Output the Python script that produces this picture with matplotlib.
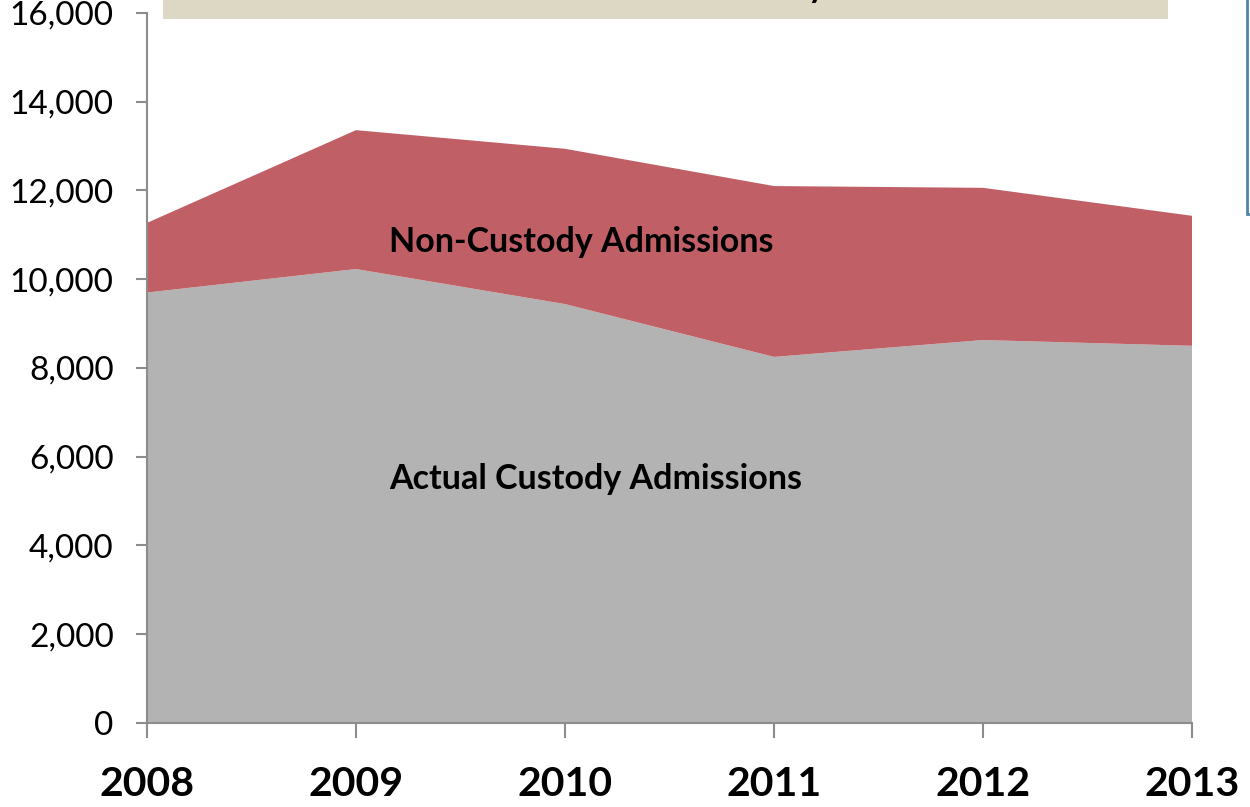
import matplotlib
matplotlib.use("Agg")
import matplotlib.pyplot as plt
from matplotlib.patches import Rectangle

# Admissions by year (stacked)
years = ["2008", "2009", "2010", "2011", "2012", "2013"]
actual_custody = [9700, 10230, 9440, 8250, 8630, 8500]
non_custody = [1570, 3130, 3500, 3850, 3430, 2930]

plt.rcParams["font.family"] = ["Lato", "DejaVu Sans"]

fig = plt.figure(figsize=(12.5, 8.07), dpi=100)
ax = fig.add_axes([0.1176, 0.1041, 0.836, 0.8798])

x = list(range(len(years)))
ax.stackplot(x, actual_custody, non_custody,
             colors=["#B3B3B3", "#C06066"], linewidth=0)

ax.set_xlim(0, len(years) - 1)
ax.set_ylim(0, 16000)
ax.set_yticks(range(0, 16001, 2000))
ax.set_yticklabels([f"{v:,}" for v in range(0, 16001, 2000)], fontsize=24)
ax.set_xticks(x)
ax.set_xticklabels(years, fontsize=29.5, fontweight="bold")

for side in ["top", "right"]:
    ax.spines[side].set_visible(False)
for side in ["left", "bottom"]:
    ax.spines[side].set_color("#8C8C8C")
    ax.spines[side].set_linewidth(1.5)

ax.tick_params(axis="y", length=8, width=1.5, color="#8C8C8C", pad=16)
ax.tick_params(axis="x", length=11, width=1.5, color="#8C8C8C", pad=20)

ax.text(1.16, 10850, "Non-Custody Admissions", fontsize=24.5, fontweight="bold",
        ha="left", va="center")
ax.text(1.16, 5500, "Actual Custody Admissions", fontsize=24.5, fontweight="bold",
        ha="left", va="center")

# Title banner across the top
fig.patches.append(Rectangle((163 / 1250, 1 - 19 / 807), (1168 - 163) / 1250, 0.05,
                             transform=fig.transFigure, facecolor="#DDD8C3",
                             edgecolor="none", zorder=0))
fig.text(826 / 1250, 1 + 2 / 807, "Adult Admissions to Custody", fontsize=24,
         fontweight="bold", ha="right", va="baseline", color="black")

# Side note box at the right edge
fig.patches.append(Rectangle((1247 / 1250, 1 - 214 / 807), 0.05, 0.3,
                             transform=fig.transFigure, facecolor="#F3F7FB",
                             edgecolor="#4F86A6", linewidth=2, zorder=0))

fig.savefig("out.png", dpi=100, facecolor="white")
